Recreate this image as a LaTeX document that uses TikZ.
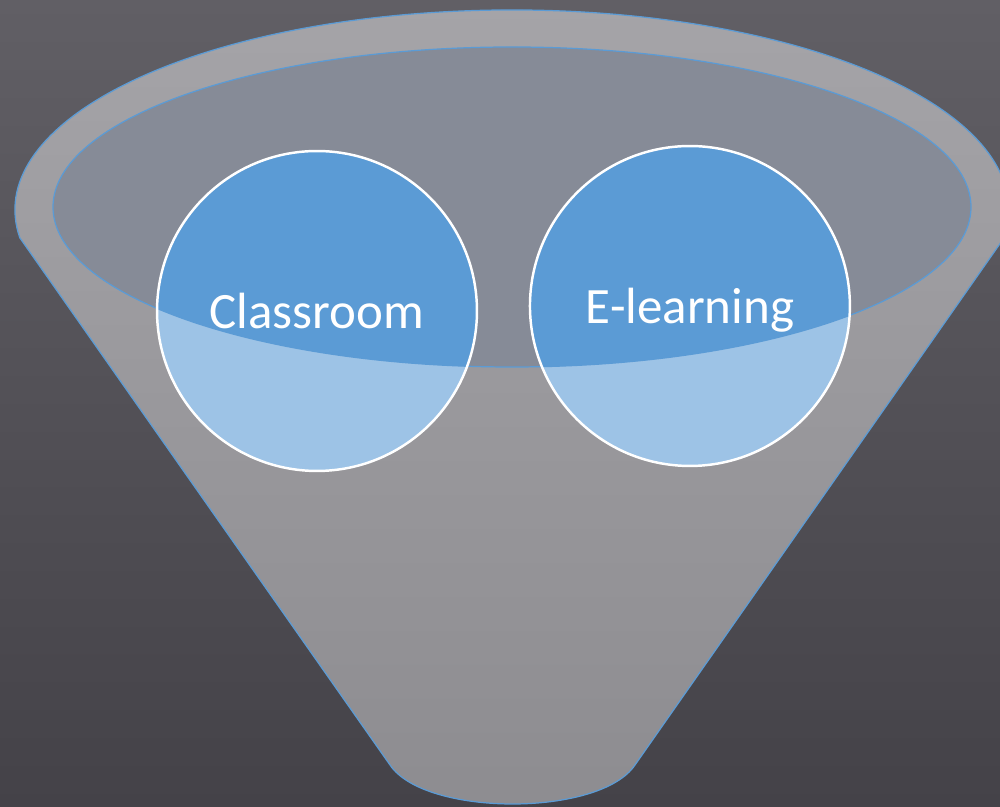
\documentclass[tikz,border=0pt]{standalone}
\usepackage{fontspec}
\setmainfont{Carlito}
\usepackage{xcolor}
\usetikzlibrary{positioning}
\usetikzlibrary{backgrounds}
\definecolor{board1}{RGB}{97, 95, 101}
\definecolor{board2}{RGB}{68, 66, 72}
\definecolor{funnel1}{RGB}{165, 164, 168}
\definecolor{funnel2}{RGB}{141, 140, 144}
\definecolor{mouth}{RGB}{134, 139, 151}
\definecolor{rimline}{RGB}{91, 155, 213}
\definecolor{blue1}{RGB}{91, 155, 213}
\definecolor{blue2}{RGB}{157, 195, 230}
\tikzstyle{bubble} = [
	circle,
	draw=white,
	line width=1.4pt,
	minimum size=6.4cm,
	inner sep=0pt,
	outer sep=0pt,
	text=white,
	text depth=0pt,
	font=\fontsize{29}{35}\selectfont
]
\tikzstyle{funnelbody} = [
	draw=rimline,
	line width=0.7pt,
	top color=funnel1,
	bottom color=funnel2
]
\tikzstyle{edge} = [
	draw=rimline,
	line width=0.7pt
]

\begin{document}
\begin{tikzpicture}[x=0.02cm, y=0.02cm, node distance=1.06cm]
	\useasboundingbox (0,0) rectangle (1000,807);

	%
	% Bubbles
	\node[bubble] (CL) at (317,496) {Classroom};
	\node[bubble, right=of CL, yshift=0.1cm] (EL) {E-learning};

	\begin{scope}[on background layer]
		% Board
		\fill[top color=board1, bottom color=board2] (0,0) rectangle (1000,807);

		% Funnel
		\path[funnelbody] (390,42) -- (19.8,569.2)
			arc[start angle=188, end angle=-8, x radius=497, y radius=200]
			-- (635,42) .. controls (600,-10) and (425,-10) .. cycle;

		% Mouth
		\fill[mouth] (512,600) ellipse[x radius=459, y radius=160];

		% Bubble fills
		\fill[blue2] (CL.center) circle[radius=160];
		\fill[blue2] (EL.center) circle[radius=160];
		\begin{scope}
			\clip (512,600) ellipse[x radius=459, y radius=160];
			\fill[blue1] (CL.center) circle[radius=160];
			\fill[blue1] (EL.center) circle[radius=160];
		\end{scope}
		\draw[edge] (512,600) ellipse[x radius=459, y radius=160];
	\end{scope}

\end{tikzpicture}
\end{document}
